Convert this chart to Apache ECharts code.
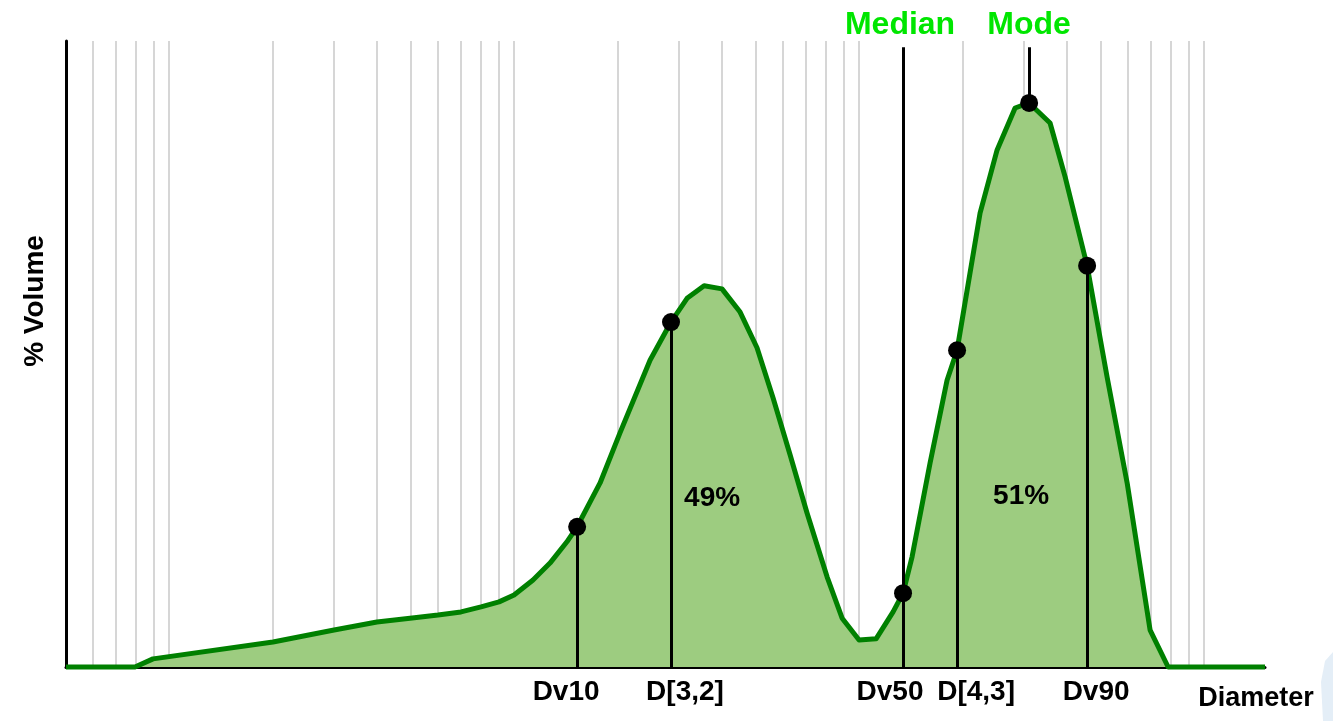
<!DOCTYPE html>
<html>
<head>
<meta charset="utf-8">
<title>Particle size distribution</title>
<script src="https://cdn.jsdelivr.net/npm/echarts@6/dist/echarts.min.js"></script>
<style>
  html, body { margin: 0; padding: 0; background: #ffffff; }
  #chart { width: 1333px; height: 721px; }
</style>
</head>
<body>
<div id="chart"></div>
<script>
// Volume distribution curve: diameter (log scale) against % volume
const diameters = [0.2512, 0.398, 0.449, 1.0, 1.503, 2.001, 2.495, 3.008, 3.507, 4.008, 4.52, 4.996,
  5.67, 6.35, 7.11, 7.61, 8.87, 10.13, 12.38, 14.24, 15.85, 17.76, 20.01, 22.58, 25.28, 28.13,
  31.52, 35.30, 40.35, 44.61, 49.95, 55.96, 62.68, 66.99, 71.15, 80.23, 89.86, 96.07, 112.0,
  125.5, 141.5, 155.4, 178.7, 197.6, 228.8, 261.5, 298.9, 348.4, 392.9, 750];
const volumes = [0, 0, 0.13, 0.40, 0.59, 0.72, 0.78, 0.83, 0.88, 0.96, 1.04, 1.15,
  1.39, 1.66, 2.00, 2.24, 2.94, 3.74, 4.90, 5.51, 5.89, 6.09, 6.04, 5.67, 5.10, 4.30,
  3.39, 2.46, 1.44, 0.78, 0.43, 0.45, 0.88, 1.18, 1.76, 3.26, 4.58, 5.06, 7.25,
  8.26, 8.93, 9.01, 8.69, 7.83, 6.41, 4.63, 2.94, 0.59, 0, 0];

// Characteristic diameters marked on the curve
const statNames = ['Dv10', 'D[3,2]', 'Dv50', 'D[4,3]', 'Dv90'];
const statDiameters = [7.61, 14.24, 66.99, 96.07, 228.8];
const statVolumes = [2.24, 5.51, 1.18, 5.06, 6.41];
const modeDiameter = 155.4;
const modeVolume = 9.01;

// Share of volume on each side of the median
const shareLabels = ['49%', '51%'];

// Vertical guide lines: 1, 1.5, 2 ... 5 within each decade
const decades = [0.1, 1, 10, 100];
const decadeSteps = [1, 1.5, 2, 2.5, 3, 3.5, 4, 4.5, 5];

const X_MIN = 0.2512, X_MAX = 750;
const Y_MAX = 10;
const LINE_TOP = 9.9; // upper end of the median / mode guides

const guideValues = [];
decades.forEach(d => decadeSteps.forEach(s => {
  const v = +(d * s).toPrecision(3);
  if (v > X_MIN * 1.05 && v < X_MAX) guideValues.push(v);
}));

const FONT = '"Liberation Sans", Arial, sans-serif';
const curve = diameters.map((d, i) => [d, volumes[i]]);

const dropLines = statDiameters.map((d, i) => {
  const top = statNames[i] === 'Dv50' ? LINE_TOP : statVolumes[i];
  return [{ coord: [d, top] }, { coord: [d, 0] }];
});
dropLines.push([{ coord: [modeDiameter, LINE_TOP] }, { coord: [modeDiameter, modeVolume] }]);

const labelShift = { 'Dv10': -11, 'D[3,2]': 14, 'Dv50': -13, 'D[4,3]': 19, 'Dv90': 9 };

const chart = echarts.init(document.getElementById('chart'), null, { renderer: 'canvas' });
chart.setOption({
  animation: false,
  backgroundColor: '#ffffff',
  grid: { left: 66, right: 68, top: 41, bottom: 54 },
  xAxis: {
    type: 'log', logBase: 10, min: X_MIN, max: X_MAX,
    axisLine: { show: true, onZero: false, lineStyle: { color: '#000', width: 3 } },
    axisTick: { show: false }, axisLabel: { show: false },
    splitLine: { show: false }, minorSplitLine: { show: false }
  },
  yAxis: {
    type: 'value', min: 0, max: Y_MAX,
    axisLine: { show: true, lineStyle: { color: '#000', width: 3 } },
    axisTick: { show: false }, axisLabel: { show: false }, splitLine: { show: false }
  },
  graphic: [
    {
      type: 'text', x: 35, y: 301, rotation: Math.PI / 2,
      style: { text: '% Volume', font: 'bold 28px ' + FONT, fill: '#000', align: 'center', verticalAlign: 'middle' }
    },
    {
      type: 'text', x: 1256, y: 699,
      style: { text: 'Diameter', font: 'bold 27px ' + FONT, fill: '#000', align: 'center', verticalAlign: 'middle' }
    },
    {
      type: 'polygon', z: -1,
      shape: { points: [[1333, 652], [1325, 661], [1321, 682], [1323, 721], [1333, 721]] },
      style: { fill: '#e4eef7' }
    }
  ],
  series: [
    {
      name: 'guides', type: 'scatter', data: [], z: 1, silent: true,
      markLine: {
        z: 1, silent: true, symbol: 'none', animation: false,
        label: { show: false },
        lineStyle: { color: '#c9c9c9', width: 1.5, type: 'solid', opacity: 1 },
        data: guideValues.map(v => ({ xAxis: v }))
      }
    },
    {
      name: 'volume', type: 'line', data: curve, z: 2, clip: false,
      symbol: 'none', smooth: false,
      lineStyle: { color: '#008000', width: 5, join: 'round' },
      areaStyle: { color: '#9dcc80', opacity: 1 }
    },
    {
      name: 'drops', type: 'scatter', data: [], z: 3, silent: true,
      markLine: {
        z: 3, silent: true, symbol: 'none', animation: false,
        label: { show: false },
        lineStyle: { color: '#000', width: 3, type: 'solid', opacity: 1 },
        data: dropLines
      }
    },
    {
      name: 'stats', type: 'scatter', z: 4, symbolSize: 18, clip: false,
      itemStyle: { color: '#000', opacity: 1 },
      data: statDiameters.map((d, i) => [d, statVolumes[i]]).concat([[modeDiameter, modeVolume]])
    },
    {
      name: 'statLabels', type: 'scatter', z: 5, symbolSize: 0, clip: false, silent: true,
      itemStyle: { opacity: 1 },
      data: statDiameters.map((d, i) => ({
        value: [d, 0], name: statNames[i],
        label: { offset: [labelShift[statNames[i]], 0] }
      })),
      label: {
        show: true, position: 'bottom', distance: 11,
        formatter: p => p.name,
        fontFamily: FONT, fontWeight: 'bold', fontSize: 28, color: '#000'
      }
    },
    {
      name: 'topLabels', type: 'scatter', z: 5, symbolSize: 0, clip: false, silent: true,
      itemStyle: { opacity: 1 },
      data: [
        { value: [statDiameters[2], LINE_TOP], name: 'Median', label: { offset: [-3, 0] } },
        { value: [modeDiameter, LINE_TOP], name: 'Mode' }
      ],
      label: {
        show: true, position: 'top', distance: 6,
        formatter: p => p.name,
        fontFamily: FONT, fontWeight: 'bold', fontSize: 32, color: '#00e600'
      }
    },
    {
      name: 'shares', type: 'scatter', z: 5, symbolSize: 0, clip: false, silent: true,
      itemStyle: { opacity: 1 },
      data: [
        { value: [18.73, 2.70], name: shareLabels[0] },
        { value: [147.3, 2.73], name: shareLabels[1] }
      ],
      label: {
        show: true, position: 'inside',
        formatter: p => p.name,
        fontFamily: FONT, fontWeight: 'bold', fontSize: 28, color: '#000'
      }
    }
  ]
});
</script>
</body>
</html>
